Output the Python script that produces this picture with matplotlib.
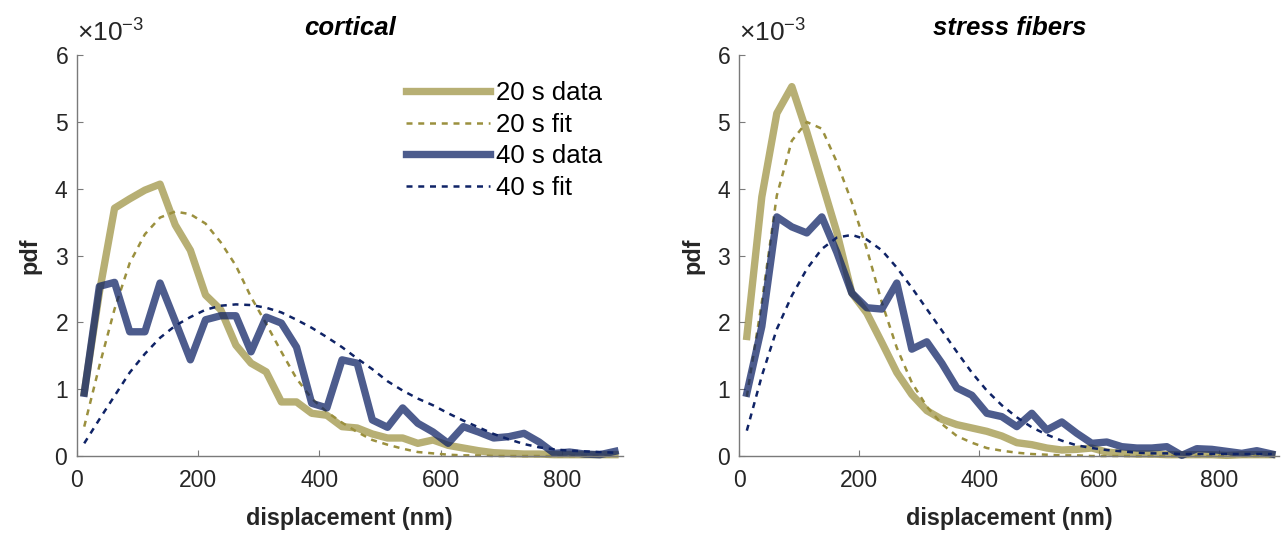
import numpy as np
import matplotlib
matplotlib.use('Agg')
import matplotlib.pyplot as plt
from matplotlib.ticker import ScalarFormatter

plt.rcParams['font.family'] = ['Liberation Sans', 'DejaVu Sans']
plt.rcParams['mathtext.default'] = 'regular'

# bin centres (nm)
displacement = [12.5, 37.5, 62.5, 87.5, 112.5, 137.5, 162.5, 187.5, 212.5, 237.5,
                262.5, 287.5, 312.5, 337.5, 362.5, 387.5, 412.5, 437.5, 462.5, 487.5,
                512.5, 537.5, 562.5, 587.5, 612.5, 637.5, 662.5, 687.5, 712.5, 737.5,
                762.5, 787.5, 812.5, 837.5, 862.5, 887.5]

# pdf values, in units of 1e-3
cortical_20s_data = [0.95, 2.45, 3.71, 3.85, 3.98, 4.07, 3.46, 3.08, 2.41, 2.19,
                     1.66, 1.39, 1.26, 0.81, 0.81, 0.64, 0.61, 0.44, 0.42, 0.33,
                     0.27, 0.27, 0.19, 0.24, 0.16, 0.12, 0.08, 0.05, 0.04, 0.03,
                     0.03, 0.02, 0.02, 0.02, 0.02, 0.02]
cortical_20s_fit = [0.44, 1.35, 2.2, 2.89, 3.32, 3.57, 3.66, 3.62, 3.48, 3.2,
                    2.85, 2.38, 1.98, 1.56, 1.16, 0.86, 0.66, 0.5, 0.36, 0.24,
                    0.17, 0.11, 0.06, 0.04, 0.02, 0.01, 0.01, 0.0, 0.0, 0.0,
                    0.0, 0.0, 0.0, 0.0, 0.0, 0.0]
cortical_40s_data = [0.94, 2.54, 2.6, 1.86, 1.86, 2.59, 2.02, 1.44, 2.04, 2.1,
                     2.1, 1.56, 2.08, 1.99, 1.63, 0.79, 0.72, 1.44, 1.39, 0.54,
                     0.43, 0.72, 0.49, 0.36, 0.19, 0.44, 0.36, 0.27, 0.29, 0.34,
                     0.21, 0.04, 0.06, 0.03, 0.02, 0.07]
cortical_40s_fit = [0.19, 0.55, 0.9, 1.25, 1.53, 1.77, 1.95, 2.08, 2.19, 2.25,
                    2.27, 2.26, 2.22, 2.15, 2.04, 1.92, 1.78, 1.63, 1.46, 1.3,
                    1.12, 0.98, 0.86, 0.76, 0.64, 0.53, 0.43, 0.33, 0.25, 0.18,
                    0.13, 0.1, 0.08, 0.07, 0.06, 0.05]

stress_20s_data = [1.79, 3.88, 5.13, 5.53, 4.85, 4.1, 3.35, 2.44, 2.14, 1.7,
                   1.25, 0.92, 0.68, 0.55, 0.47, 0.42, 0.37, 0.3, 0.2, 0.17,
                   0.12, 0.09, 0.1, 0.12, 0.06, 0.04, 0.03, 0.03, 0.02, 0.02,
                   0.02, 0.02, 0.01, 0.02, 0.02, 0.02]
stress_20s_fit = [0.89, 2.3, 3.9, 4.72, 5.0, 4.9, 4.4, 3.8, 3.1, 2.3,
                  1.62, 1.1, 0.74, 0.48, 0.3, 0.2, 0.12, 0.08, 0.05, 0.03,
                  0.02, 0.01, 0.01, 0.0, 0.0, 0.0, 0.0, 0.0, 0.0, 0.0,
                  0.0, 0.0, 0.0, 0.0, 0.0, 0.0]
stress_40s_data = [0.94, 1.94, 3.58, 3.43, 3.34, 3.58, 3.05, 2.44, 2.22, 2.2,
                   2.59, 1.6, 1.71, 1.39, 1.02, 0.91, 0.64, 0.59, 0.44, 0.64,
                   0.39, 0.51, 0.34, 0.19, 0.21, 0.14, 0.12, 0.12, 0.14, 0.01,
                   0.11, 0.1, 0.07, 0.04, 0.08, 0.03]
stress_40s_fit = [0.38, 1.2, 1.9, 2.4, 2.8, 3.1, 3.27, 3.31, 3.24, 3.08,
                  2.82, 2.52, 2.2, 1.88, 1.56, 1.25, 0.98, 0.76, 0.58, 0.43,
                  0.32, 0.23, 0.16, 0.12, 0.09, 0.07, 0.05, 0.04, 0.04, 0.03,
                  0.03, 0.03, 0.03, 0.03, 0.03, 0.03]

labels = ['20 s data', '20 s fit', '40 s data', '40 s fit']

olive = '#9b903e'
navy = '#0f2366'
axis_grey = '#7a7a7a'
text_dark = '#262626'


def draw_panel(ax, title, d20, f20, d40, f40, legend=False):
    x = np.array(displacement)
    dash = (0, (2.4, 2.3))
    ax.plot(x, np.array(d20) * 1e-3, color=olive, alpha=0.72, lw=5.3,
            label=labels[0], clip_on=False)
    ax.plot(x, np.array(f20) * 1e-3, color=olive, lw=1.8, linestyle=dash,
            label=labels[1], clip_on=False)
    ax.plot(x, np.array(d40) * 1e-3, color=navy, alpha=0.74, lw=5.3,
            label=labels[2], clip_on=False)
    ax.plot(x, np.array(f40) * 1e-3, color=navy, lw=1.8, linestyle=dash,
            label=labels[3], clip_on=False)

    ax.set_xlim(0, 900)
    ax.set_ylim(0, 6e-3)
    ax.set_xticks([0, 200, 400, 600, 800])
    ax.set_yticks([0, 1e-3, 2e-3, 3e-3, 4e-3, 5e-3, 6e-3])
    fmt = ScalarFormatter(useMathText=True)
    fmt.set_powerlimits((0, 0))
    ax.yaxis.set_major_formatter(fmt)
    ax.yaxis.OFFSETTEXTPAD = 10
    ax.yaxis.get_offset_text().set_fontsize(19)
    ax.yaxis.get_offset_text().set_color(text_dark)

    for side in ['top', 'right']:
        ax.spines[side].set_visible(False)
    for side in ['left', 'bottom']:
        ax.spines[side].set_color(axis_grey)
        ax.spines[side].set_linewidth(1.0)
    ax.tick_params(direction='in', length=4, width=0.8, color=axis_grey,
                   labelsize=16.5, labelcolor=text_dark)
    ax.tick_params(axis='x', pad=9)
    ax.tick_params(axis='y', pad=6)

    ax.set_title(title, fontsize=18.5, fontweight='bold', fontstyle='italic',
                 pad=14.5)
    ax.set_xlabel('displacement (nm)', fontsize=16.8, fontweight='bold',
                  color=text_dark, labelpad=11)
    ax.set_ylabel('pdf', fontsize=16.8, fontweight='bold', color=text_dark,
                  labelpad=9)

    if legend:
        ax.legend(loc='upper left', bbox_to_anchor=(0.604, 0.936), frameon=False,
                  fontsize=18.5, handlelength=3.25, handletextpad=0.22,
                  labelspacing=0.3, borderpad=0, borderaxespad=0)


fig = plt.figure(figsize=(12.86, 5.34), dpi=100)
ax1 = fig.add_axes([0.0596, 0.146, 0.4245, 0.7506])
ax2 = fig.add_axes([0.5749, 0.146, 0.4199, 0.7506])

draw_panel(ax1, 'cortical', cortical_20s_data, cortical_20s_fit,
           cortical_40s_data, cortical_40s_fit, legend=True)
draw_panel(ax2, 'stress fibers', stress_20s_data, stress_20s_fit,
           stress_40s_data, stress_40s_fit)

fig.savefig('out.png', dpi=100)
